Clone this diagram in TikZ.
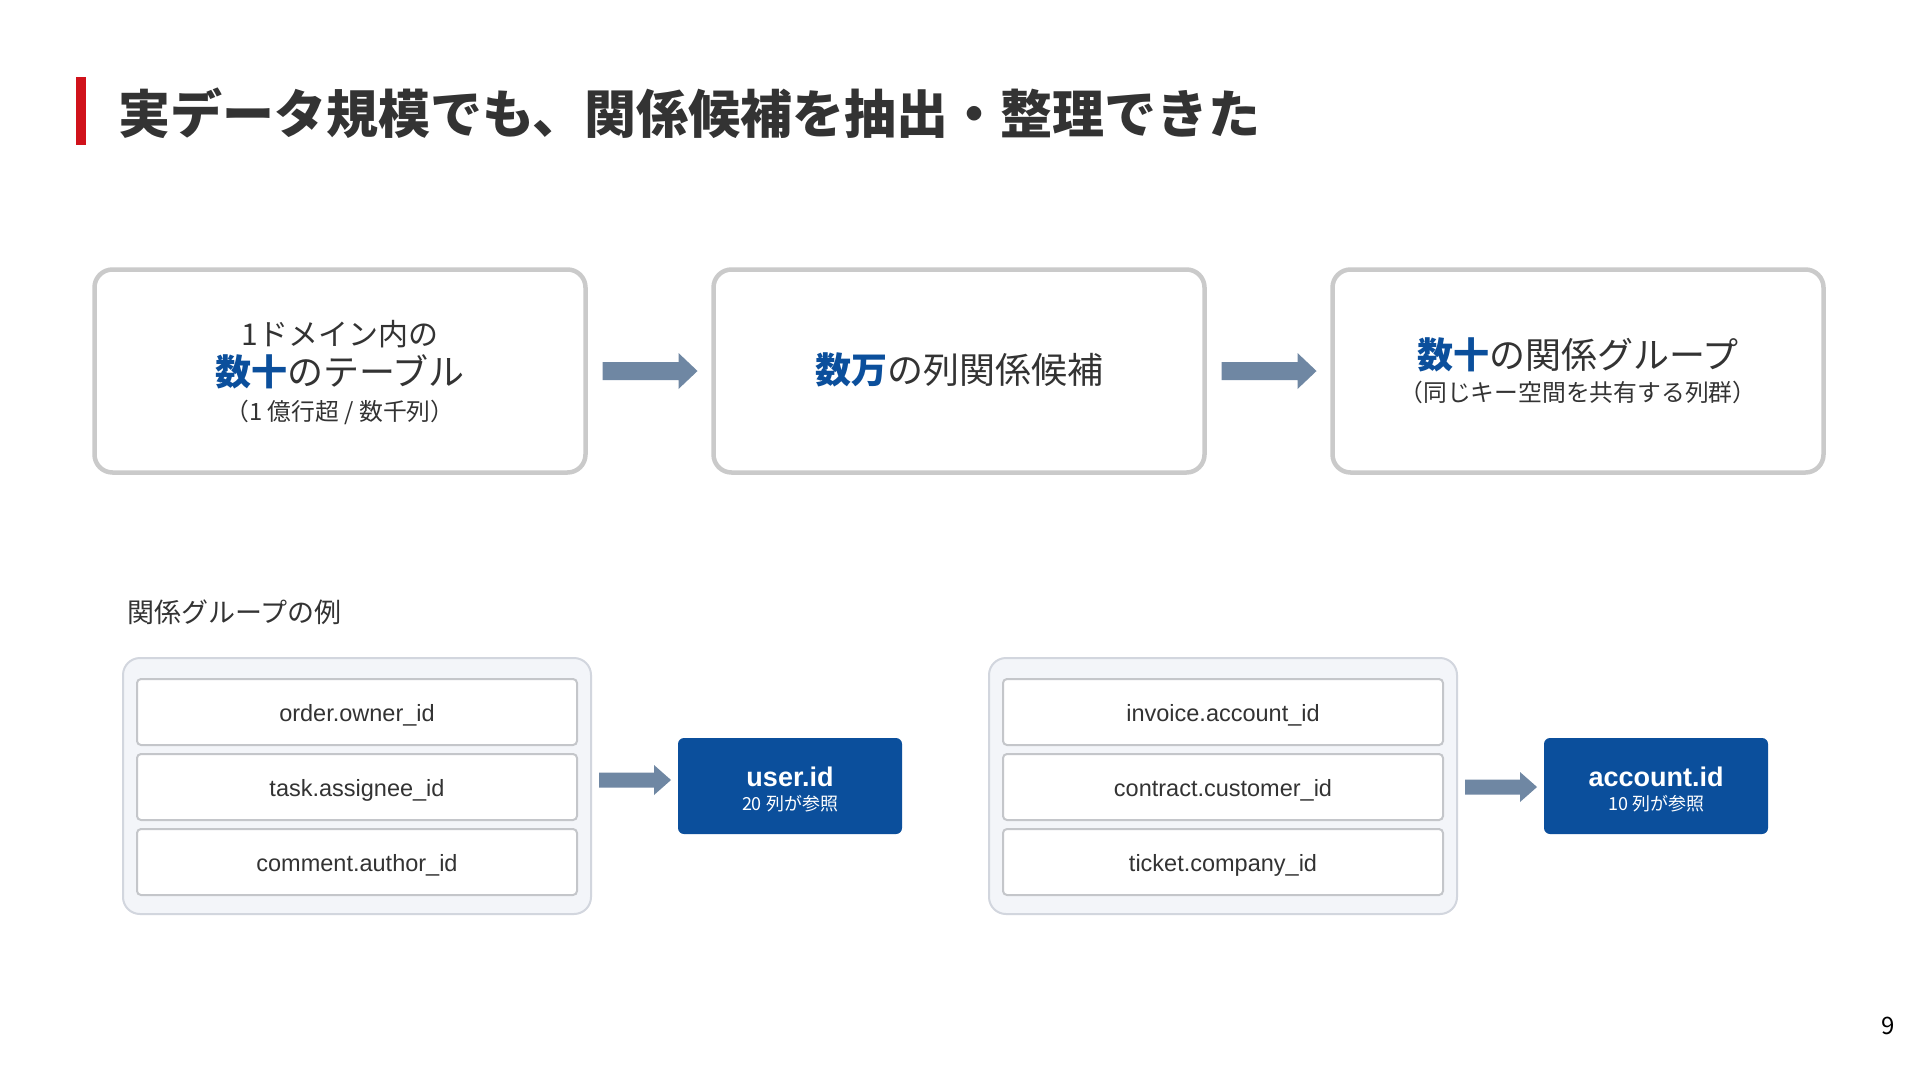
\documentclass[tikz,border=0pt]{standalone}
\usepackage{fontspec}
\setmainfont{Noto Sans CJK JP}
\newfontfamily\arialf{Liberation Sans}
\usetikzlibrary{calc}
\newlength{\pxu}\setlength{\pxu}{0.5pt}
\definecolor{txt}{HTML}{333333}
\definecolor{keyblue}{HTML}{0B4F9C}
\definecolor{arrowc}{HTML}{6F87A3}
\definecolor{topborder}{HTML}{CACACA}
\definecolor{grpfill}{HTML}{F3F5F9}
\definecolor{grpborder}{HTML}{D2D6DE}
\definecolor{cellborder}{HTML}{C4C6CA}
\definecolor{titlered}{HTML}{D0121B}
\newcommand\blockarrow[5]{%
  \fill[arrowc] ($(#1)+(0,-#3)$) -- ($(#2)+(-#5,-#3)$) -- ($(#2)+(-#5,-#4)$) -- (#2)
    -- ($(#2)+(-#5,#4)$) -- ($(#2)+(-#5,#3)$) -- ($(#1)+(0,#3)$) -- cycle;}
\tikzset{
  stage/.style={draw=topborder, line width=4.5\pxu, rounded corners=18\pxu, fill=white,
    minimum width=491\pxu, minimum height=203\pxu, inner sep=0pt, outer sep=0pt},
  group/.style={draw=grpborder, line width=2\pxu, fill=grpfill, rounded corners=17\pxu,
    minimum width=468\pxu, minimum height=256\pxu, inner sep=0pt, outer sep=0pt},
  cell/.style={draw=cellborder, line width=2\pxu, fill=white, rounded corners=4\pxu,
    minimum width=440\pxu, minimum height=66\pxu, inner sep=0pt, outer sep=0pt,
    text height=9.9pt, text depth=0pt,
    font=\arialf\fontsize{11.75}{14}\selectfont, text=txt},
  target/.style={fill=keyblue, rounded corners=6\pxu, minimum width=224\pxu,
    minimum height=96\pxu, inner sep=0pt, outer sep=0pt},
  lbl/.style={text=txt, inner sep=0pt},
  big/.style={lbl, font=\fontsize{18}{21}\selectfont},
  mid/.style={lbl, font=\fontsize{15}{18}\selectfont},
  small/.style={lbl, font=\fontsize{11.9}{14}\selectfont},
  tname/.style={text=white, inner sep=0pt, font=\arialf\bfseries\fontsize{13.5}{16}\selectfont},
  tsub/.style={text=white, inner sep=0pt, font=\fontsize{9}{11}\selectfont},
}
\begin{document}
\begin{tikzpicture}[x=\pxu, y=-\pxu]
\fill[white] (0,0) rectangle (1920,1082);
\useasboundingbox (0,0) rectangle (1920,1082);

% title
\node[fill=titlered, minimum width=10\pxu, minimum height=68\pxu, inner sep=0pt] (bar) at (81,111) {};
\node[anchor=west, text=txt, inner sep=0pt, font=\bfseries\fontsize{26}{30}\selectfont] (title) at (118,113)
  {実データ規模でも、関係候補を抽出・整理できた};

% top stages
\node[stage] (b1) at (340,371) {};
\node[stage] (b2) at (959,371) {};
\node[stage] (b3) at (1578,371) {};

\node[mid] (b1l1) at ($(b1)+(0,-37)$) {1ドメイン内の};
\node[big] (b1l2) at ($(b1)+(0,1)$) {{\bfseries\color{keyblue}数十}のテーブル};
\node[small] (b1l3) at ($(b1)+(0,41)$) {（1 億行超 / 数千列）};

\node[big] (b2l1) at ($(b2)+(0,-1)$) {{\bfseries\color{keyblue}数万}の列関係候補};

\node[big] (b3l1) at ($(b3)+(0,-16)$) {{\bfseries\color{keyblue}数十}の関係グループ};
\node[small] (b3l2) at ($(b3)+(0,21)$) {（同じキー空間を共有する列群）};

\coordinate (a1s) at ($(b1.east)+(17,0)$);
\coordinate (a1e) at ($(b2.west)+(-16,0)$);
\blockarrow{a1s}{a1e}{9}{18}{19}
\coordinate (a2s) at ($(b2.east)+(17,0)$);
\coordinate (a2e) at ($(b3.west)+(-16,0)$);
\blockarrow{a2s}{a2e}{9}{18}{19}

% examples label
\node[lbl, anchor=west, font=\fontsize{13.5}{16}\selectfont] (ex) at (127,612) {関係グループの例};

% group 1
\node[group] (g1) at (357,786) {};
\node[cell] (c11) at (357,712) {order.owner\_id};
\node[cell] (c12) at (357,787) {task.assignee\_id};
\node[cell] (c13) at (357,862) {comment.author\_id};
\node[target] (t1) at (790,786) {};
\node[tname] (t1a) at ($(t1)+(0,-9)$) {user.id};
\node[tsub] (t1b) at ($(t1)+(0,18)$) {20 列が参照};
\coordinate (a3s) at ($(g1.east)+(8,-6)$);
\coordinate (a3e) at ($(t1.west)+(-7,-6)$);
\blockarrow{a3s}{a3e}{7.5}{15}{17}

% group 2
\node[group] (g2) at (1223,786) {};
\node[cell] (c21) at (1223,712) {invoice.account\_id};
\node[cell] (c22) at (1223,787) {contract.customer\_id};
\node[cell] (c23) at (1223,862) {ticket.company\_id};
\node[target] (t2) at (1656,786) {};
\node[tname] (t2a) at ($(t2)+(0,-9)$) {account.id};
\node[tsub] (t2b) at ($(t2)+(0,18)$) {10 列が参照};
\coordinate (a4s) at ($(g2.east)+(8,1)$);
\coordinate (a4e) at ($(t2.west)+(-7,1)$);
\blockarrow{a4s}{a4e}{7.5}{15}{17}

% page number
\node[inner sep=0pt, text=black, font=\fontsize{12}{14}\selectfont] (pg) at (1888,1026) {9};
\end{tikzpicture}
\end{document}
